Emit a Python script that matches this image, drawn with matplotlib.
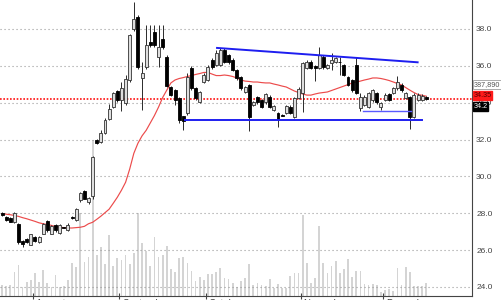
import numpy as np
import matplotlib
matplotlib.use("Agg")
import matplotlib.pyplot as plt
from matplotlib.transforms import ScaledTranslation

plt.rcParams["font.family"] = ["Liberation Sans", "DejaVu Sans"]

# ---------------- data ----------------
opens = [28.00, 27.80, 27.75, 27.50, 27.40, 26.50, 26.60, 26.30, 26.70, 26.45,
         26.90, 27.60, 26.90, 27.35, 26.95, 27.25, 27.08, 27.80, 27.65, 28.70,
         29.20, 28.60, 28.92, 32.00, 31.86, 32.35, 33.11, 33.76, 34.63, 34.14,
         33.98, 35.23, 38.00, 38.65, 35.34, 35.93, 37.29, 37.84, 36.48, 37.46,
         36.48, 34.85, 34.68, 34.25, 33.27, 33.43, 35.88, 34.79, 34.03, 35.12,
         35.23, 36.32, 36.04, 36.04, 36.86, 36.59, 36.32, 35.77, 35.39, 34.58,
         34.96, 33.87, 34.30, 34.14, 34.03, 34.30, 33.60, 33.43, 33.35, 33.43,
         33.76, 33.22, 34.25, 34.52, 35.88, 36.21, 36.00, 35.88, 36.48, 35.88,
         36.15, 36.21, 36.22, 36.04, 35.39, 35.23, 36.04, 33.71, 33.87, 33.76,
         34.14, 34.52, 33.76, 34.14, 34.47, 34.52, 34.79, 34.96, 34.25, 34.30,
         33.22, 34.14, 34.14, 34.30]
highs = [28.05, 27.85, 27.80, 28.05, 27.45, 26.55, 26.65, 26.90, 26.75, 26.75,
         27.45, 27.65, 27.35, 27.40, 27.40, 27.28, 27.45, 27.85, 28.30, 29.15,
         29.25, 28.90, 31.10, 32.05, 32.50, 33.15, 33.95, 34.60, 34.70, 35.10,
         35.50, 37.75, 39.47, 38.75, 36.20, 38.22, 38.22, 38.22, 38.22, 38.22,
         36.60, 34.90, 34.75, 34.30, 33.30, 35.60, 36.00, 34.85, 34.65, 35.60,
         36.05, 36.40, 36.85, 36.95, 36.95, 36.65, 36.40, 35.85, 35.45, 34.90,
         35.00, 34.10, 34.35, 34.20, 34.55, 34.40, 33.90, 33.50, 33.40, 33.90,
         33.85, 34.30, 34.85, 36.20, 36.30, 36.30, 36.05, 37.02, 36.60, 36.10,
         36.70, 36.50, 36.50, 36.10, 35.45, 35.30, 36.50, 34.50, 34.40, 34.60,
         34.75, 34.60, 34.05, 34.50, 34.55, 34.85, 35.45, 35.05, 34.60, 34.35,
         34.50, 34.50, 34.45, 34.35]
lows = [27.85, 27.60, 27.50, 27.45, 26.35, 26.15, 26.40, 26.25, 26.45, 26.40,
        26.85, 27.00, 26.85, 27.00, 26.90, 27.20, 27.05, 27.70, 27.60, 28.60,
        28.75, 28.50, 28.80, 31.75, 31.80, 32.30, 33.05, 33.70, 34.05, 33.55,
        33.90, 35.10, 37.90, 35.85, 33.60, 35.85, 37.02, 37.00, 35.93, 36.90,
        34.85, 34.35, 33.90, 32.90, 32.50, 33.35, 34.70, 34.15, 33.98, 35.05,
        35.15, 35.85, 36.00, 36.00, 36.15, 36.10, 35.70, 35.25, 34.70, 34.50,
        32.45, 33.80, 33.95, 33.70, 33.95, 33.70, 33.55, 32.70, 33.25, 33.40,
        33.40, 33.15, 34.20, 33.50, 35.80, 35.80, 35.20, 35.80, 35.85, 35.80,
        35.75, 36.15, 35.50, 35.45, 34.90, 34.60, 34.45, 33.55, 33.80, 33.70,
        34.05, 33.95, 33.60, 34.10, 34.10, 34.45, 34.70, 34.60, 34.20, 32.57,
        33.15, 34.10, 34.10, 34.15]
closes = [27.90, 27.62, 27.55, 28.00, 26.42, 26.35, 26.45, 26.85, 26.50, 26.70,
          27.40, 27.07, 27.30, 27.07, 27.35, 27.22, 27.38, 27.72, 28.25, 29.10,
          28.80, 28.85, 31.05, 31.80, 32.35, 33.05, 33.65, 34.52, 34.14, 34.79,
          35.28, 37.67, 38.54, 35.93, 35.61, 37.13, 37.13, 37.13, 37.02, 37.02,
          34.90, 34.41, 34.14, 33.05, 33.00, 35.39, 34.79, 34.25, 34.58, 35.50,
          35.93, 35.93, 36.70, 36.86, 36.21, 36.21, 35.77, 35.34, 34.79, 34.85,
          33.22, 34.03, 34.03, 33.76, 34.47, 33.76, 33.82, 33.11, 33.30, 33.82,
          33.43, 34.25, 34.74, 36.15, 36.21, 35.88, 35.90, 36.59, 35.93, 36.04,
          36.32, 36.43, 36.20, 35.50, 34.96, 34.68, 34.52, 34.30, 34.30, 34.52,
          34.68, 34.03, 33.98, 34.41, 34.14, 34.79, 35.12, 34.68, 34.50, 33.22,
          34.41, 34.41, 34.36, 34.20]
ma20 = [27.98, 27.95, 27.92, 27.88, 27.83, 27.76, 27.70, 27.63, 27.56, 27.48,
        27.43, 27.39, 27.34, 27.28, 27.24, 27.22, 27.20, 27.20, 27.22, 27.24,
        27.29, 27.43, 27.51, 27.67, 27.84, 28.03, 28.22, 28.54, 28.87, 29.25,
        29.68, 30.40, 31.25, 31.80, 32.20, 32.50, 32.90, 33.30, 33.76, 34.28,
        34.68, 35.07, 35.23, 35.31, 35.36, 35.42, 35.47, 35.53, 35.58, 35.64,
        35.64, 35.55, 35.47, 35.47, 35.50, 35.47, 35.42, 35.34, 35.23, 35.17,
        35.15, 35.12, 35.12, 35.09, 35.07, 35.07, 35.01, 34.96, 34.90, 34.85,
        34.74, 34.63, 34.55, 34.47, 34.41, 34.41, 34.47, 34.52, 34.55, 34.58,
        34.66, 34.74, 34.82, 34.90, 34.98, 35.07, 35.12, 35.17, 35.23, 35.28,
        35.34, 35.34, 35.31, 35.26, 35.20, 35.12, 35.04, 34.96, 34.82, 34.68,
        34.55, 34.44, 34.40, 34.35]
volume_k = [330, 300, 330, 715, 925, 270, 420, 480, 685, 420,
            775, 390, 270, 625, 270, 300, 480, 985, 865, 2475,
            1015, 1165, 4655, 1225, 1460, 955, 1820, 895, 1135, 1075,
            1225, 955, 1285, 2475, 1580, 1345, 895, 1760, 1165, 1225,
            1490, 805, 715, 1135, 1165, 985, 745, 450, 565, 480,
            655, 655, 715, 835, 535, 505, 390, 270, 450, 535,
            955, 330, 390, 330, 300, 505, 240, 360, 240, 240,
            595, 685, 685, 2415, 985, 390, 535, 2090, 985, 685,
            895, 1045, 685, 805, 1105, 565, 745, 745, 360, 330,
            360, 330, 120, 180, 210, 150, 835, 330, 865, 715,
            300, 300, 300, 387.89]

month_labels = ["August", "September", "October", "November", "December"]
month_ticks = [7.5, 28.5, 49.5, 72.5, 92.5]
price_ticks = [24.0, 26.0, 28.0, 30.0, 32.0, 34.0, 36.0, 38.0]

resistance_x = [52.2, 100.9]
resistance_y = [36.97, 36.19]
support_x = [44.5, 101.9]
support_y = [33.05, 33.05]
support2_x = [87.7, 99.4]
support2_y = [33.56, 33.56]

# ---------------- figure ----------------
opens = np.array(opens); highs = np.array(highs)
lows = np.array(lows); closes = np.array(closes)
volume = np.array(volume_k) * 1000.0
x = np.arange(len(closes))

fig = plt.figure(figsize=(5.01, 3.0), dpi=100)
fig.patch.set_facecolor("white")
ax = fig.add_axes([0.0, 4 / 300, 472 / 501, 296 / 300])
axv = ax.twinx()
ax.set_zorder(2)
axv.set_zorder(1)
ax.patch.set_visible(False)

# volume bars
axv.bar(x, volume, width=0.42, color="#d4d4d4", linewidth=0)
axv.set_ylim(0, 8.83e6)
axv.set_yticks([])
for s in axv.spines.values():
    s.set_visible(False)

# grid
ax.set_yticks(price_ticks)
ax.set_yticklabels([f"{v:.1f}" for v in price_ticks])
ax.yaxis.tick_right()
ax.grid(axis="y", color="#9a9a9a", linestyle=(0, (1, 2.6)), linewidth=0.8)

# moving average
ax.plot(x, ma20, color="#ec4b4b", lw=0.85, zorder=3)

# last close dotted line
ax.axhline(closes[-1], color="#ff1010", linestyle=(0, (1, 1.0)), lw=1.2, zorder=2.5)

# candles
up = closes >= opens
ax.vlines(x, lows, highs, color="#2a2a2a", lw=0.7, zorder=4)
body_bottom = np.minimum(opens, closes)
body_h = np.maximum(np.abs(closes - opens), 0.03)
ax.bar(x[up], body_h[up], bottom=body_bottom[up], width=0.72,
       color="#dedede", edgecolor="#333333", linewidth=0.6, zorder=5)
ax.bar(x[~up], body_h[~up], bottom=body_bottom[~up], width=0.72,
       color="#000000", edgecolor="#000000", linewidth=0.6, zorder=5)

# trend lines
ax.plot(resistance_x, resistance_y, color="#1e1ef0", lw=1.4, zorder=6)
ax.plot(support_x, support_y, color="#1e1ef0", lw=1.4, zorder=6)
ax.plot(support2_x, support2_y, color="#5a5aff", lw=1.0, zorder=6)

ax.set_xlim(-0.49, 114.1)
ax.set_ylim(23.51, 39.57)

# axes styling
ax.spines["left"].set_visible(False)
ax.spines["top"].set_visible(False)
ax.spines["right"].set_color("#444444")
ax.spines["bottom"].set_color("#444444")
ax.tick_params(axis="y", length=0, pad=3, labelsize=6.0, labelcolor="#444444")
ax.set_xticks(month_ticks)
ax.set_xticklabels(month_labels)
ax.tick_params(axis="x", length=5, direction="inout", width=0.8, color="#444444",
               labelsize=7, labelcolor="#444444", pad=0)
off = ScaledTranslation(2 / 72, 0, fig.dpi_scale_trans)
for lbl in ax.get_xticklabels():
    lbl.set_horizontalalignment("left")
    lbl.set_transform(lbl.get_transform() + off)

# right-side value labels
common = dict(xycoords=("axes fraction", "data"), textcoords="offset points",
              ha="left", va="center", fontsize=5.2, annotation_clip=False)
ax.annotate(f"{ma20[-1]:.2f}", xy=(1.0, ma20[-1]), xytext=(1.0, 0.3),
            color="#550000",
            bbox=dict(boxstyle="square,pad=0.12", fc="#ff1a1a", ec="#ff1a1a"), **common)
ax.annotate(f"{closes[-1]:.1f}", xy=(1.0, closes[-1]), xytext=(1.0, -5.4),
            color="white",
            bbox=dict(boxstyle="square,pad=0.12", fc="#000000", ec="#000000"), **common)
ax.annotate(f"{int(round(volume[-1])):,}", xy=(1.0, ma20[-1]), xytext=(1.0, 8.2),
            color="#555555",
            bbox=dict(boxstyle="square,pad=0.12", fc="white", ec="#aaaaaa", lw=0.7), **common)

fig.savefig("out.png", dpi=100)
